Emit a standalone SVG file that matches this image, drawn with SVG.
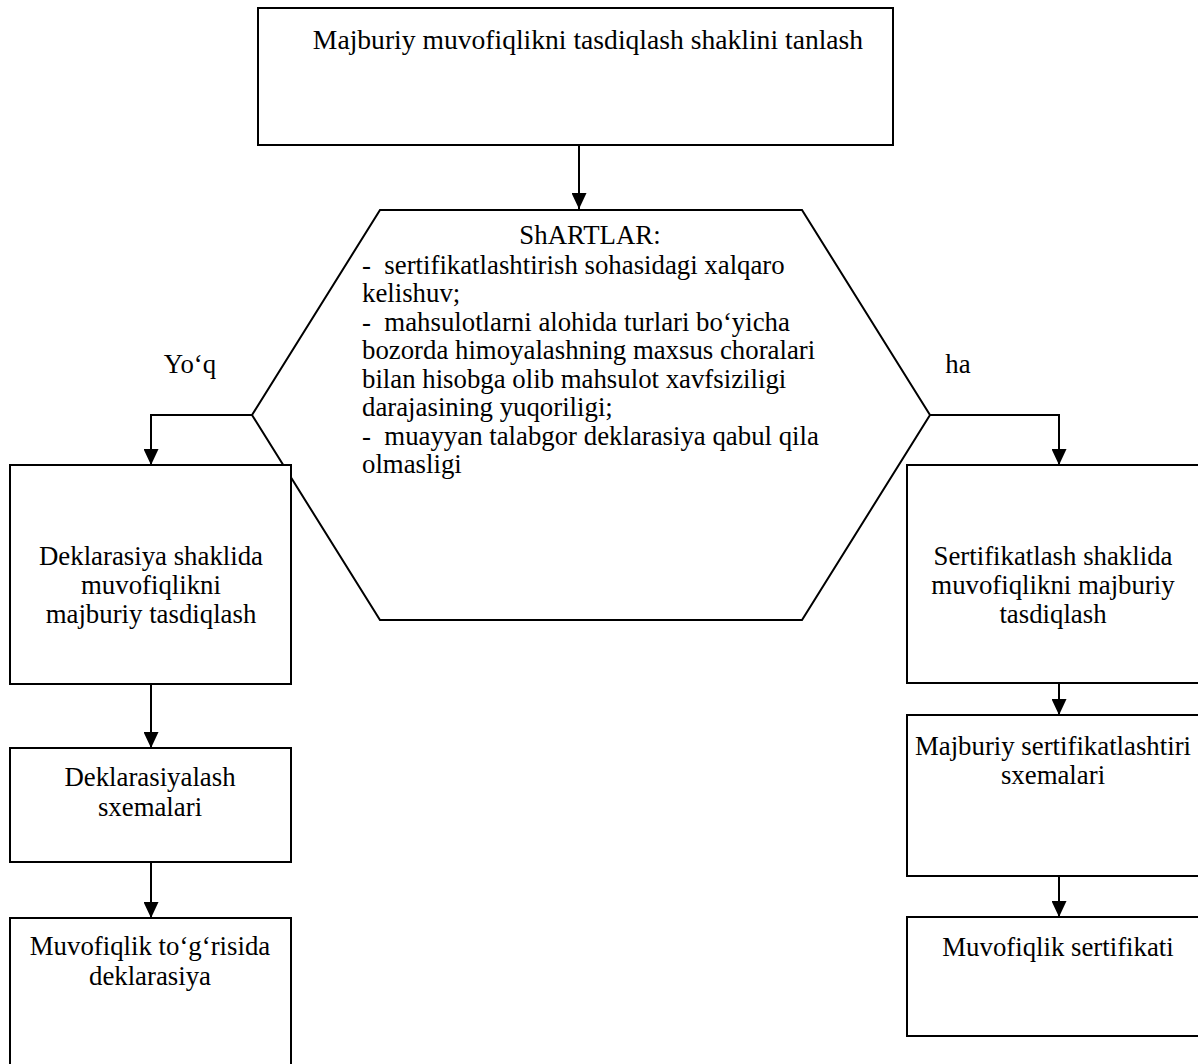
<svg xmlns="http://www.w3.org/2000/svg" width="1198" height="1064" viewBox="0 0 1198 1064">
  <style>
    .box { fill: #fff; stroke: #000; stroke-width: 2; }
    .wire { fill: none; stroke: #000; stroke-width: 2; }
    .c { text-anchor: middle; }
    .pre { white-space: pre; }
  </style>
  <defs>
    <marker id="arrow" viewBox="0 0 16 15" refX="16" refY="7.5" markerWidth="16" markerHeight="15" markerUnits="userSpaceOnUse" orient="auto">
      <path d="M0,0 L16,7.5 L0,15 z" fill="#000"/>
    </marker>
  </defs>
  <rect width="1198" height="1064" fill="#fff"/>

  <g font-family="'Liberation Serif', 'Times New Roman', Times, serif" font-size="26.8" fill="#000">
  <g id="connectors">
    <line class="wire" x1="579" y1="145" x2="579" y2="209" marker-end="url(#arrow)"/>
    <polyline class="wire" points="252,415 151,415 151,465" marker-end="url(#arrow)"/>
    <polyline class="wire" points="930,415 1059,415 1059,465" marker-end="url(#arrow)"/>
    <line class="wire" x1="151" y1="684" x2="151" y2="748" marker-end="url(#arrow)"/>
    <line class="wire" x1="151" y1="862" x2="151" y2="918" marker-end="url(#arrow)"/>
    <line class="wire" x1="1059" y1="683" x2="1059" y2="715" marker-end="url(#arrow)"/>
    <line class="wire" x1="1059" y1="876" x2="1059" y2="917" marker-end="url(#arrow)"/>
    <text x="190" y="373" class="c">Yo‘q</text>
    <text x="958" y="373" class="c">ha</text>
  </g>

  <g id="start">
    <rect class="box" x="258" y="8" width="635" height="137"/>
    <text x="588" y="49" class="c" font-size="27.6">Majburiy muvofiqlikni tasdiqlash shaklini tanlash</text>
  </g>

  <g id="conditions">
    <polygon class="box" points="380,210 802,210 930,415 802,620 380,620 252,415"/>
    <text x="590" y="244" class="c">ShARTLAR:</text>
    <text x="362" y="274" class="pre" xml:space="preserve">-  sertifikatlashtirish sohasidagi xalqaro</text>
    <text x="362" y="302">kelishuv;</text>
    <text x="362" y="331" class="pre" xml:space="preserve">-  mahsulotlarni alohida turlari bo‘yicha</text>
    <text x="362" y="359">bozorda himoyalashning maxsus choralari</text>
    <text x="362" y="388">bilan hisobga olib mahsulot xavfsiziligi</text>
    <text x="362" y="416">darajasining yuqoriligi;</text>
    <text x="362" y="445" class="pre" xml:space="preserve">-  muayyan talabgor deklarasiya qabul qila</text>
    <text x="362" y="473">olmasligi</text>
  </g>

  <g id="declaration-form">
    <rect class="box" x="10" y="465" width="281" height="219"/>
    <text x="151" y="565" class="c">Deklarasiya shaklida</text>
    <text x="151" y="594" class="c">muvofiqlikni</text>
    <text x="151" y="623" class="c">majburiy tasdiqlash</text>
  </g>

  <g id="declaration-schemes">
    <rect class="box" x="10" y="748" width="281" height="114"/>
    <text x="150" y="786" class="c">Deklarasiyalash</text>
    <text x="150" y="816" class="c">sxemalari</text>
  </g>

  <g id="declaration">
    <rect class="box" x="10" y="918" width="281" height="160"/>
    <text x="150" y="955" class="c">Muvofiqlik to‘g‘risida</text>
    <text x="150" y="985" class="c">deklarasiya</text>
  </g>

  <g id="certification-form">
    <rect class="box" x="907" y="465" width="300" height="218"/>
    <text x="1053" y="565" class="c">Sertifikatlash shaklida</text>
    <text x="1053" y="594" class="c">muvofiqlikni majburiy</text>
    <text x="1053" y="623" class="c">tasdiqlash</text>
  </g>

  <g id="certification-schemes">
    <rect class="box" x="907" y="715" width="300" height="161"/>
    <text x="1053" y="755" class="c">Majburiy sertifikatlashtiri</text>
    <text x="1053" y="784" class="c">sxemalari</text>
  </g>

  <g id="certificate">
    <rect class="box" x="907" y="917" width="300" height="119"/>
    <text x="1058" y="956" class="c">Muvofiqlik sertifikati</text>
  </g>
  </g>
</svg>
